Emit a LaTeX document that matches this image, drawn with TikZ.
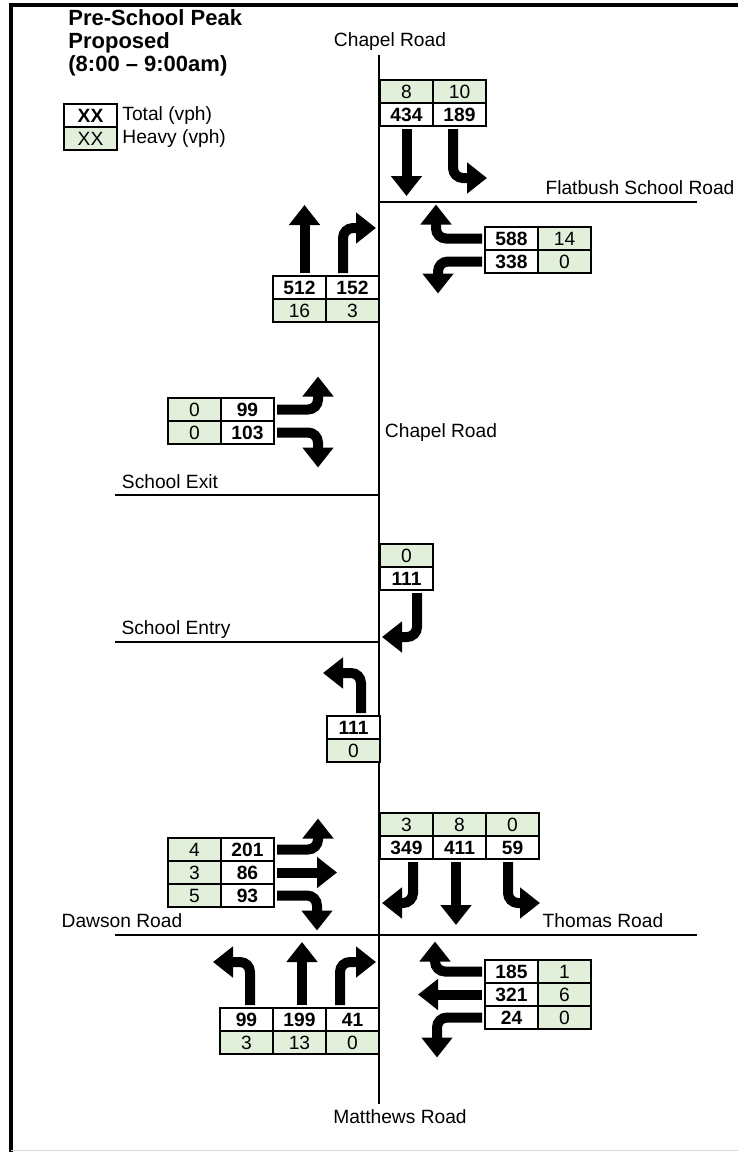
\documentclass[tikz,border=0pt]{standalone}
\usepackage{fontspec}
\setmainfont{Liberation Sans}
\usetikzlibrary{arrows.meta,positioning}
\definecolor{hvygreen}{RGB}{226,239,218}
\tikzset{
  cell/.style={draw, line width=0.75pt, minimum width=26.5pt, minimum height=11.5pt,
    inner sep=0pt, outer sep=0pt, text height=6.9pt, text depth=0pt,
    font=\fontsize{9.6}{11}\selectfont},
  tot/.style={cell, fill=white, font=\fontsize{9.6}{11}\selectfont\bfseries},
  hvy/.style={cell, fill=hvygreen},
  road/.style={line width=1pt},
  lbl/.style={font=\fontsize{9.6}{11}\selectfont, inner sep=0pt},
  mv/.style={line width=5pt, rounded corners=5pt, shorten <=1.5pt,
    -{Triangle[width=15pt,length=10pt]}},
}
\begin{document}
\begin{tikzpicture}[x=0.5pt,y=-0.5pt]
\useasboundingbox (0,0) rectangle (738,1152);
\draw[line width=2pt] (10.5,1152) -- (10.5,5) -- (738,5);
\draw[black!15, line width=0.5pt] (10.5,1150) -- (738,1150);

\node[anchor=north west, align=left, inner sep=0pt,
  font=\fontsize{11}{11.5}\selectfont\bfseries] (title) at (68,9)
  {Pre-School Peak\\Proposed\\(8:00 -- 9:00am)};
\node[tot] (legt) at (90.5,115.5) {XX};
\node[hvy, below=0pt of legt] (legh) {XX};
\node[lbl, anchor=west] (legtl) at (122,115.5) {Total (vph)};
\node[lbl, anchor=west] (leghl) at (122,138.5) {Heavy (vph)};

\draw[road] (379,55) -- (379,1104);
\draw[road] (379,202) -- (697,202);
\draw[road] (115,495) -- (379,495);
\draw[road] (115,642) -- (379,642);
\draw[road] (115,935) -- (697,935);

\node[lbl] (chapn) at (390,42) {Chapel Road};
\node[lbl] (flat) at (640,188) {Flatbush School Road};
\node[lbl] (chapm) at (441,433) {Chapel Road};
\node[lbl] (sexit) at (170,482) {School Exit};
\node[lbl] (sentry) at (176,630) {School Entry};
\node[lbl] (dawson) at (122,921) {Dawson Road};
\node[lbl] (thomas) at (603,921) {Thomas Road};
\node[lbl] (matt) at (400,1117) {Matthews Road};

% Chapel Road / Flatbush School Road
\node[hvy] (nsbh1) at (406.5,91.5) {8};
\node[hvy, right=0pt of nsbh1] (nsbh2) {10};
\node[tot, below=0pt of nsbh1] (nsbt1) {434};
\node[tot, below=0pt of nsbh2] (nsbt2) {189};
\draw[mv] (nsbt1.south) -- ++(0,70);
\draw[mv] ([xshift=-3.25pt]nsbt2.south) |- ++(34,52);

\node[tot] (nwbt1) at (511.5,238.5) {588};
\node[hvy, right=0pt of nwbt1] (nwbh1) {14};
\node[tot, below=0pt of nwbt1] (nwbt2) {338};
\node[hvy, below=0pt of nwbh1] (nwbh2) {0};
\draw[mv] (nwbt1.west) -| ++(-49,-34);
\draw[mv] (nwbt2.west) -| ++(-47,32);

\node[tot] (nnbt1) at (299.5,287.5) {512};
\node[tot, right=0pt of nnbt1] (nnbt2) {152};
\node[hvy, below=0pt of nnbt1] (nnbh1) {16};
\node[hvy, below=0pt of nnbt2] (nnbh2) {3};
\draw[mv] ([xshift=2.5pt]nnbt1.north) -- ++(0,-71);
\draw[mv] ([xshift=-4.75pt]nnbt2.north) |- ++(33,-48);

% School Exit
\node[hvy] (xebh1) at (194.5,409.5) {0};
\node[tot, right=0pt of xebh1] (xebt1) {99};
\node[hvy, below=0pt of xebh1] (xebh2) {0};
\node[tot, below=0pt of xebt1] (xebt2) {103};
\draw[mv] (xebt1.east) -| ++(44,-33);
\draw[mv] (xebt2.east) -| ++(44,35);

% School Entry
\node[hvy] (esbh) at (406.5,555.5) {0};
\node[tot, below=0pt of esbh] (esbt) {111};
\draw[mv] ([xshift=5.25pt]esbt.south) |- ++(-35,47);
\node[tot] (enbt) at (353.5,727.5) {111};
\node[hvy, below=0pt of enbt] (enbh) {0};
\draw[mv] ([xshift=3.75pt]enbt.north) |- ++(-38,-43);

% Chapel Road / Dawson Road / Thomas Road
\node[hvy] (ssbh1) at (406.5,824.5) {3};
\node[hvy, right=0pt of ssbh1] (ssbh2) {8};
\node[hvy, right=0pt of ssbh2] (ssbh3) {0};
\node[tot, below=0pt of ssbh1] (ssbt1) {349};
\node[tot, below=0pt of ssbh2] (ssbt2) {411};
\node[tot, below=0pt of ssbh3] (ssbt3) {59};
\draw[mv] ([xshift=3.25pt]ssbt1.south) |- ++(-31,44);
\draw[mv] ([xshift=-1.75pt]ssbt2.south) -- ++(0,66);
\draw[mv] ([xshift=-2.25pt]ssbt3.south) |- ++(32,44);

\node[hvy] (sebh1) at (194.5,849.5) {4};
\node[tot, right=0pt of sebh1] (sebt1) {201};
\node[hvy, below=0pt of sebh1] (sebh2) {3};
\node[tot, below=0pt of sebt1] (sebt2) {86};
\node[hvy, below=0pt of sebh2] (sebh3) {5};
\node[tot, below=0pt of sebt2] (sebt3) {93};
\draw[mv] (sebt1.east) -| ++(44,-31);
\draw[mv] (sebt2.east) -- ++(63,0);
\draw[mv] (sebt3.east) -| ++(43,35);

\node[tot] (snbt1) at (246.5,1019.5) {99};
\node[tot, right=0pt of snbt1] (snbt2) {199};
\node[tot, right=0pt of snbt2] (snbt3) {41};
\node[hvy, below=0pt of snbt1] (snbh1) {3};
\node[hvy, below=0pt of snbt2] (snbh2) {13};
\node[hvy, below=0pt of snbt3] (snbh3) {0};
\draw[mv] ([xshift=1.75pt]snbt1.north) |- ++(-37,-46);
\draw[mv] ([xshift=1.25pt]snbt2.north) -- ++(0,-66);
\draw[mv] ([xshift=-6.25pt]snbt3.north) |- ++(36,-46);

\node[tot] (swbt1) at (511.5,971.5) {185};
\node[hvy, right=0pt of swbt1] (swbh1) {1};
\node[tot, below=0pt of swbt1] (swbt2) {321};
\node[hvy, below=0pt of swbh1] (swbh2) {6};
\node[tot, below=0pt of swbt2] (swbt3) {24};
\node[hvy, below=0pt of swbh2] (swbh3) {0};
\draw[mv] (swbt1.west) -| ++(-50,-30);
\draw[mv] (swbt2.west) -- ++(-67,0);
\draw[mv] (swbt3.west) -| ++(-48,40);
\end{tikzpicture}
\end{document}
